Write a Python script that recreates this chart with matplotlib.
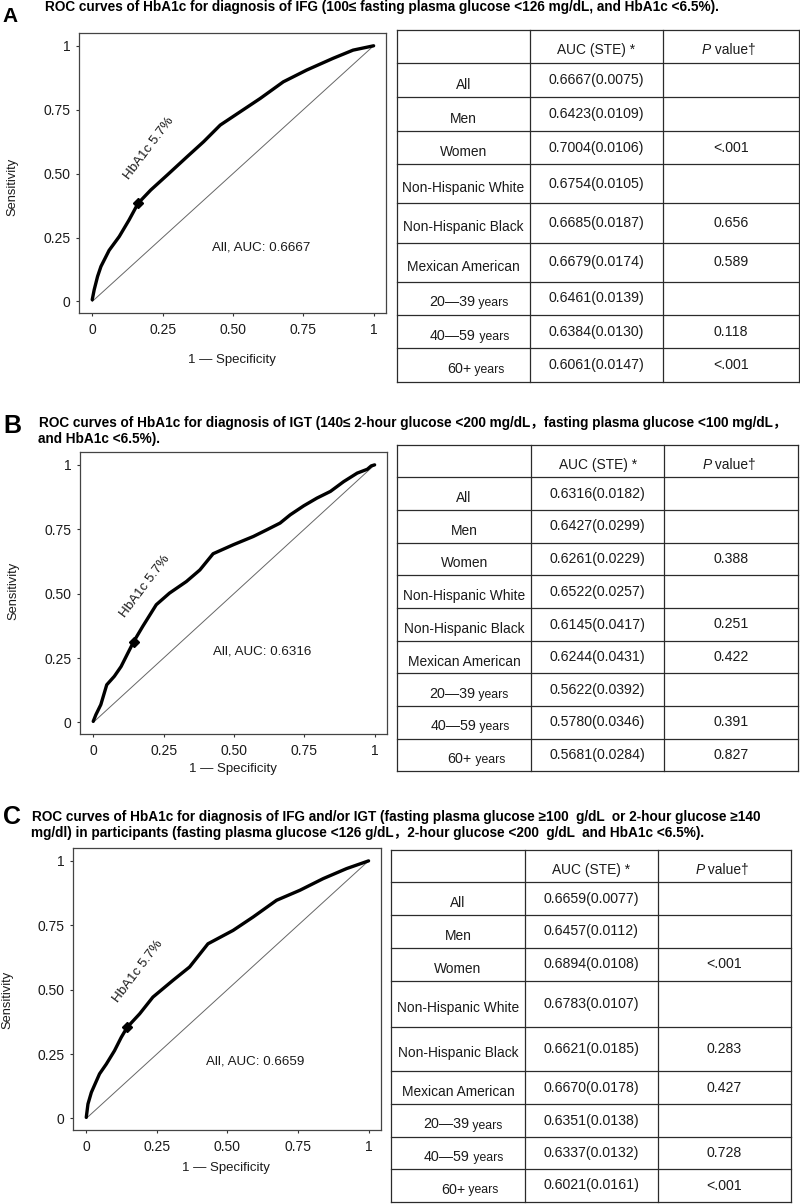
import matplotlib
matplotlib.use("Agg")
import matplotlib.pyplot as plt

plt.rcParams['font.family'] = ['Liberation Sans', 'DejaVu Sans', 'Noto Sans CJK SC']

W, H = 800, 1204

# ---------------- data ----------------
groups = ["All", "Men", "Women", "Non-Hispanic White", "Non-Hispanic Black",
          "Mexican American", "20—39 years", "40—59 years", "60+ years"]

# panel A: IFG
a_fpr = [0, 0.007, 0.019, 0.031, 0.06, 0.096, 0.131, 0.163, 0.208, 0.267, 0.337,
         0.396, 0.455, 0.526, 0.597, 0.679, 0.762, 0.856, 0.927, 1.0]
a_tpr = [0.007, 0.046, 0.098, 0.137, 0.20, 0.254, 0.319, 0.384, 0.436, 0.495, 0.566,
         0.625, 0.690, 0.742, 0.794, 0.859, 0.905, 0.951, 0.983, 1.0]
a_cut = (0.163, 0.384)
a_auc_all = "0.6667"
a_auc = ["0.6667(0.0075)", "0.6423(0.0109)", "0.7004(0.0106)", "0.6754(0.0105)",
         "0.6685(0.0187)", "0.6679(0.0174)", "0.6461(0.0139)", "0.6384(0.0130)",
         "0.6061(0.0147)"]
a_p = ["", "", "<.001", "", "0.656", "0.589", "", "0.118", "<.001"]

# panel B: IGT
b_fpr = [0, 0.0095, 0.027, 0.048, 0.075, 0.099, 0.123, 0.144, 0.176, 0.224, 0.271,
         0.331, 0.379, 0.426, 0.498, 0.569, 0.617, 0.664, 0.700, 0.748, 0.795,
         0.843, 0.890, 0.938, 0.974, 0.988, 1.0]
b_tpr = [0.004, 0.03, 0.069, 0.146, 0.179, 0.217, 0.269, 0.314, 0.373, 0.457, 0.502,
         0.547, 0.592, 0.655, 0.690, 0.722, 0.748, 0.774, 0.806, 0.841, 0.871,
         0.897, 0.935, 0.968, 0.983, 0.996, 1.0]
b_cut = (0.144, 0.314)
b_auc_all = "0.6316"
b_auc = ["0.6316(0.0182)", "0.6427(0.0299)", "0.6261(0.0229)", "0.6522(0.0257)",
         "0.6145(0.0417)", "0.6244(0.0431)", "0.5622(0.0392)", "0.5780(0.0346)",
         "0.5681(0.0284)"]
b_p = ["", "", "0.388", "", "0.251", "0.422", "", "0.391", "0.827"]

# panel C: IFG and/or IGT
c_fpr = [0, 0.006, 0.018, 0.047, 0.071, 0.10, 0.124, 0.145, 0.189, 0.236, 0.307,
         0.366, 0.431, 0.52, 0.591, 0.674, 0.757, 0.839, 0.922, 1.0]
c_tpr = [0.004, 0.056, 0.101, 0.173, 0.211, 0.263, 0.315, 0.354, 0.406, 0.471, 0.536,
         0.588, 0.678, 0.730, 0.782, 0.847, 0.886, 0.931, 0.970, 1.0]
c_cut = (0.145, 0.354)
c_auc_all = "0.6659"
c_auc = ["0.6659(0.0077)", "0.6457(0.0112)", "0.6894(0.0108)", "0.6783(0.0107)",
         "0.6621(0.0185)", "0.6670(0.0178)", "0.6351(0.0138)", "0.6337(0.0132)",
         "0.6021(0.0161)"]
c_p = ["", "", "<.001", "", "0.283", "0.427", "", "0.728", "<.001"]

titles = [
    "ROC curves of HbA1c for diagnosis of IFG (100≤ fasting plasma glucose <126 mg/dL, and HbA1c <6.5%).",
    "ROC curves of HbA1c for diagnosis of IGT (140≤ 2-hour glucose <200 mg/dL，fasting plasma glucose <100 mg/dL，\n"
    "and HbA1c <6.5%).",
    "ROC curves of HbA1c for diagnosis of IFG and/or IGT (fasting plasma glucose ≥100  g/dL  or 2-hour glucose ≥140\n"
    "mg/dl) in participants (fasting plasma glucose <126 g/dL，2-hour glucose <200  g/dL  and HbA1c <6.5%).",
]
letters = ["A", "B", "C"]

# ---------------- layout (pixels) ----------------
panels = [
    dict(fpr=a_fpr, tpr=a_tpr, cut=a_cut, all_auc=a_auc_all, auc=a_auc, p=a_p,
         box=(79, 33, 386, 313), letter=(2, 21.7, 15), title=(45, 10.5),
         ylab=(12.5, 187), xlab=360, auc_y=0.212,
         cols=[397, 530, 663, 799],
         rows=[30, 63.3, 97.3, 131, 164.3, 203.3, 242.7, 281.7, 315, 348.3, 381.7]),
    dict(fpr=b_fpr, tpr=b_tpr, cut=b_cut, all_auc=b_auc_all, auc=b_auc, p=b_p,
         box=(80, 452, 387, 734), letter=(3, 432.7, 18), title=(39, 426.5),
         ylab=(13.3, 591), xlab=769.3, auc_y=0.276,
         cols=[397.3, 531, 664.3, 798],
         rows=[445, 477.3, 510, 542.7, 575, 608.3, 640.7, 673.3, 706, 738.7, 771]),
    dict(fpr=c_fpr, tpr=c_tpr, cut=c_cut, all_auc=c_auc_all, auc=c_auc, p=c_p,
         box=(73, 848, 381, 1130), letter=(3, 824.3, 18), title=(32, 820.5),
         ylab=(7, 1000), xlab=1168.3, auc_y=0.222,
         cols=[391, 525, 657.7, 791],
         rows=[850, 882.3, 915, 947.7, 981, 1026.7, 1071, 1104.3, 1136.7, 1169.3, 1201.7]),
]
years_offset = {"20—39": 32, "40—59": 33, "60+": 50}

fig = plt.figure(figsize=(W / 100, H / 100), dpi=100)

# overlay in pixel coordinates for tables and titles
ov = fig.add_axes([0, 0, 1, 1])
ov.set_xlim(0, W)
ov.set_ylim(H, 0)
ov.axis('off')
ov.patch.set_visible(False)

line_c = '#2b2b2b'
txt_c = '#1a1a1a'
fs_lab = 9.9
fs_val = 10.2
fs_title = 9.8

for k, pn in enumerate(panels):
    # letter and title
    lx, ly, lfs = pn['letter']
    ov.text(lx, ly, letters[k], fontsize=lfs, fontweight='bold', va='baseline', ha='left')
    tx, ty = pn['title']
    first_line, *rest = titles[k].split("\n")
    ov.text(tx, ty, first_line, fontsize=fs_title, fontweight='bold', va='baseline', ha='left')
    for j, ln in enumerate(rest):
        ov.text(tx - 1, ty + 16 * (j + 1), ln, fontsize=fs_title, fontweight='bold',
                va='baseline', ha='left')

    # ROC axes
    x0, y0, x1, y1 = pn['box']
    ax = fig.add_axes([x0 / W, 1 - y1 / H, (x1 - x0) / W, (y1 - y0) / H])
    ax.plot([0, 1], [0, 1], color='#666666', lw=0.7)
    ax.plot(pn['fpr'], pn['tpr'], color='black', lw=2.4, solid_capstyle='round')
    ax.plot([pn['cut'][0]], [pn['cut'][1]], marker='D', color='black', markersize=5.5)
    ax.set_xlim(-0.047, 1.044)
    ax.set_ylim(-0.045, 1.05)
    ticks = [0, 0.25, 0.5, 0.75, 1]
    tlabels = ["0", "0.25", "0.50", "0.75", "1"]
    ax.set_xticks(ticks, tlabels)
    ax.set_yticks(ticks, tlabels)
    ax.tick_params(axis='both', direction='out', length=2.5, width=0.8,
                   colors='#333333', labelsize=10, labelcolor=txt_c)
    ax.tick_params(axis='x', pad=5)
    ax.tick_params(axis='y', pad=3.5)
    for s in ax.spines.values():
        s.set_color('#444444')
        s.set_linewidth(0.9)
    ax.text(0.60, pn['auc_y'], "All, AUC: " + pn['all_auc'],
            fontsize=9.6, color=txt_c, ha='center', va='center')
    ax.text(pn['cut'][0] + 0.04, pn['cut'][1] + 0.215, "HbA1c 5.7%", rotation=53,
            fontsize=9.6, color=txt_c, ha='center', va='center', rotation_mode='anchor')

    fig.text(pn['ylab'][0] / W, 1 - pn['ylab'][1] / H, "Sensitivity", rotation=90,
             fontsize=9.3, color=txt_c, ha='center', va='center')
    fig.text(((x0 + x1) / 2 - 1) / W, 1 - pn['xlab'] / H, "1 — Specificity",
             fontsize=9.5, color=txt_c, ha='center', va='center')

    # table
    cols, rows = pn['cols'], pn['rows']
    for xc in cols:
        ov.plot([xc, xc], [rows[0], rows[-1]], color=line_c, lw=0.9)
    for yr in rows:
        ov.plot([cols[0], cols[-1]], [yr, yr], color=line_c, lw=0.9)

    hy = (rows[0] + rows[1]) / 2 + 3.5
    ov.text((cols[1] + cols[2]) / 2, hy, "AUC (STE) *", fontsize=fs_lab, color=txt_c,
            ha='center', va='center')
    pt = ov.text((cols[2] + cols[3]) / 2 - 29, hy, "P", fontsize=fs_lab, style='italic',
                 color=txt_c, ha='left', va='center')
    ov.annotate(" value†", xy=(1, 0), xycoords=pt, fontsize=fs_lab, color=txt_c,
                ha='left', va='bottom')

    for i, g in enumerate(groups):
        cy = (rows[i + 1] + rows[i + 2]) / 2
        if g.endswith("years"):
            head = g.replace(" years", "")
            t = ov.text(cols[0] + years_offset[head], cy + 4, head, fontsize=10.3,
                        color=txt_c, ha='left', va='center')
            ov.annotate(" years", xy=(1, 0), xycoords=t, fontsize=8.8, color=txt_c,
                        ha='left', va='bottom')
        else:
            ov.text((cols[0] + cols[1]) / 2, cy + 4.5, g, fontsize=fs_lab, color=txt_c,
                    ha='center', va='center')
        ov.text((cols[1] + cols[2]) / 2, cy, pn['auc'][i], fontsize=fs_val,
                color=txt_c, ha='center', va='center')
        if pn['p'][i]:
            ov.text((cols[2] + cols[3]) / 2, cy, pn['p'][i], fontsize=fs_val,
                    color=txt_c, ha='center', va='center')

fig.savefig("out.png", dpi=100)
